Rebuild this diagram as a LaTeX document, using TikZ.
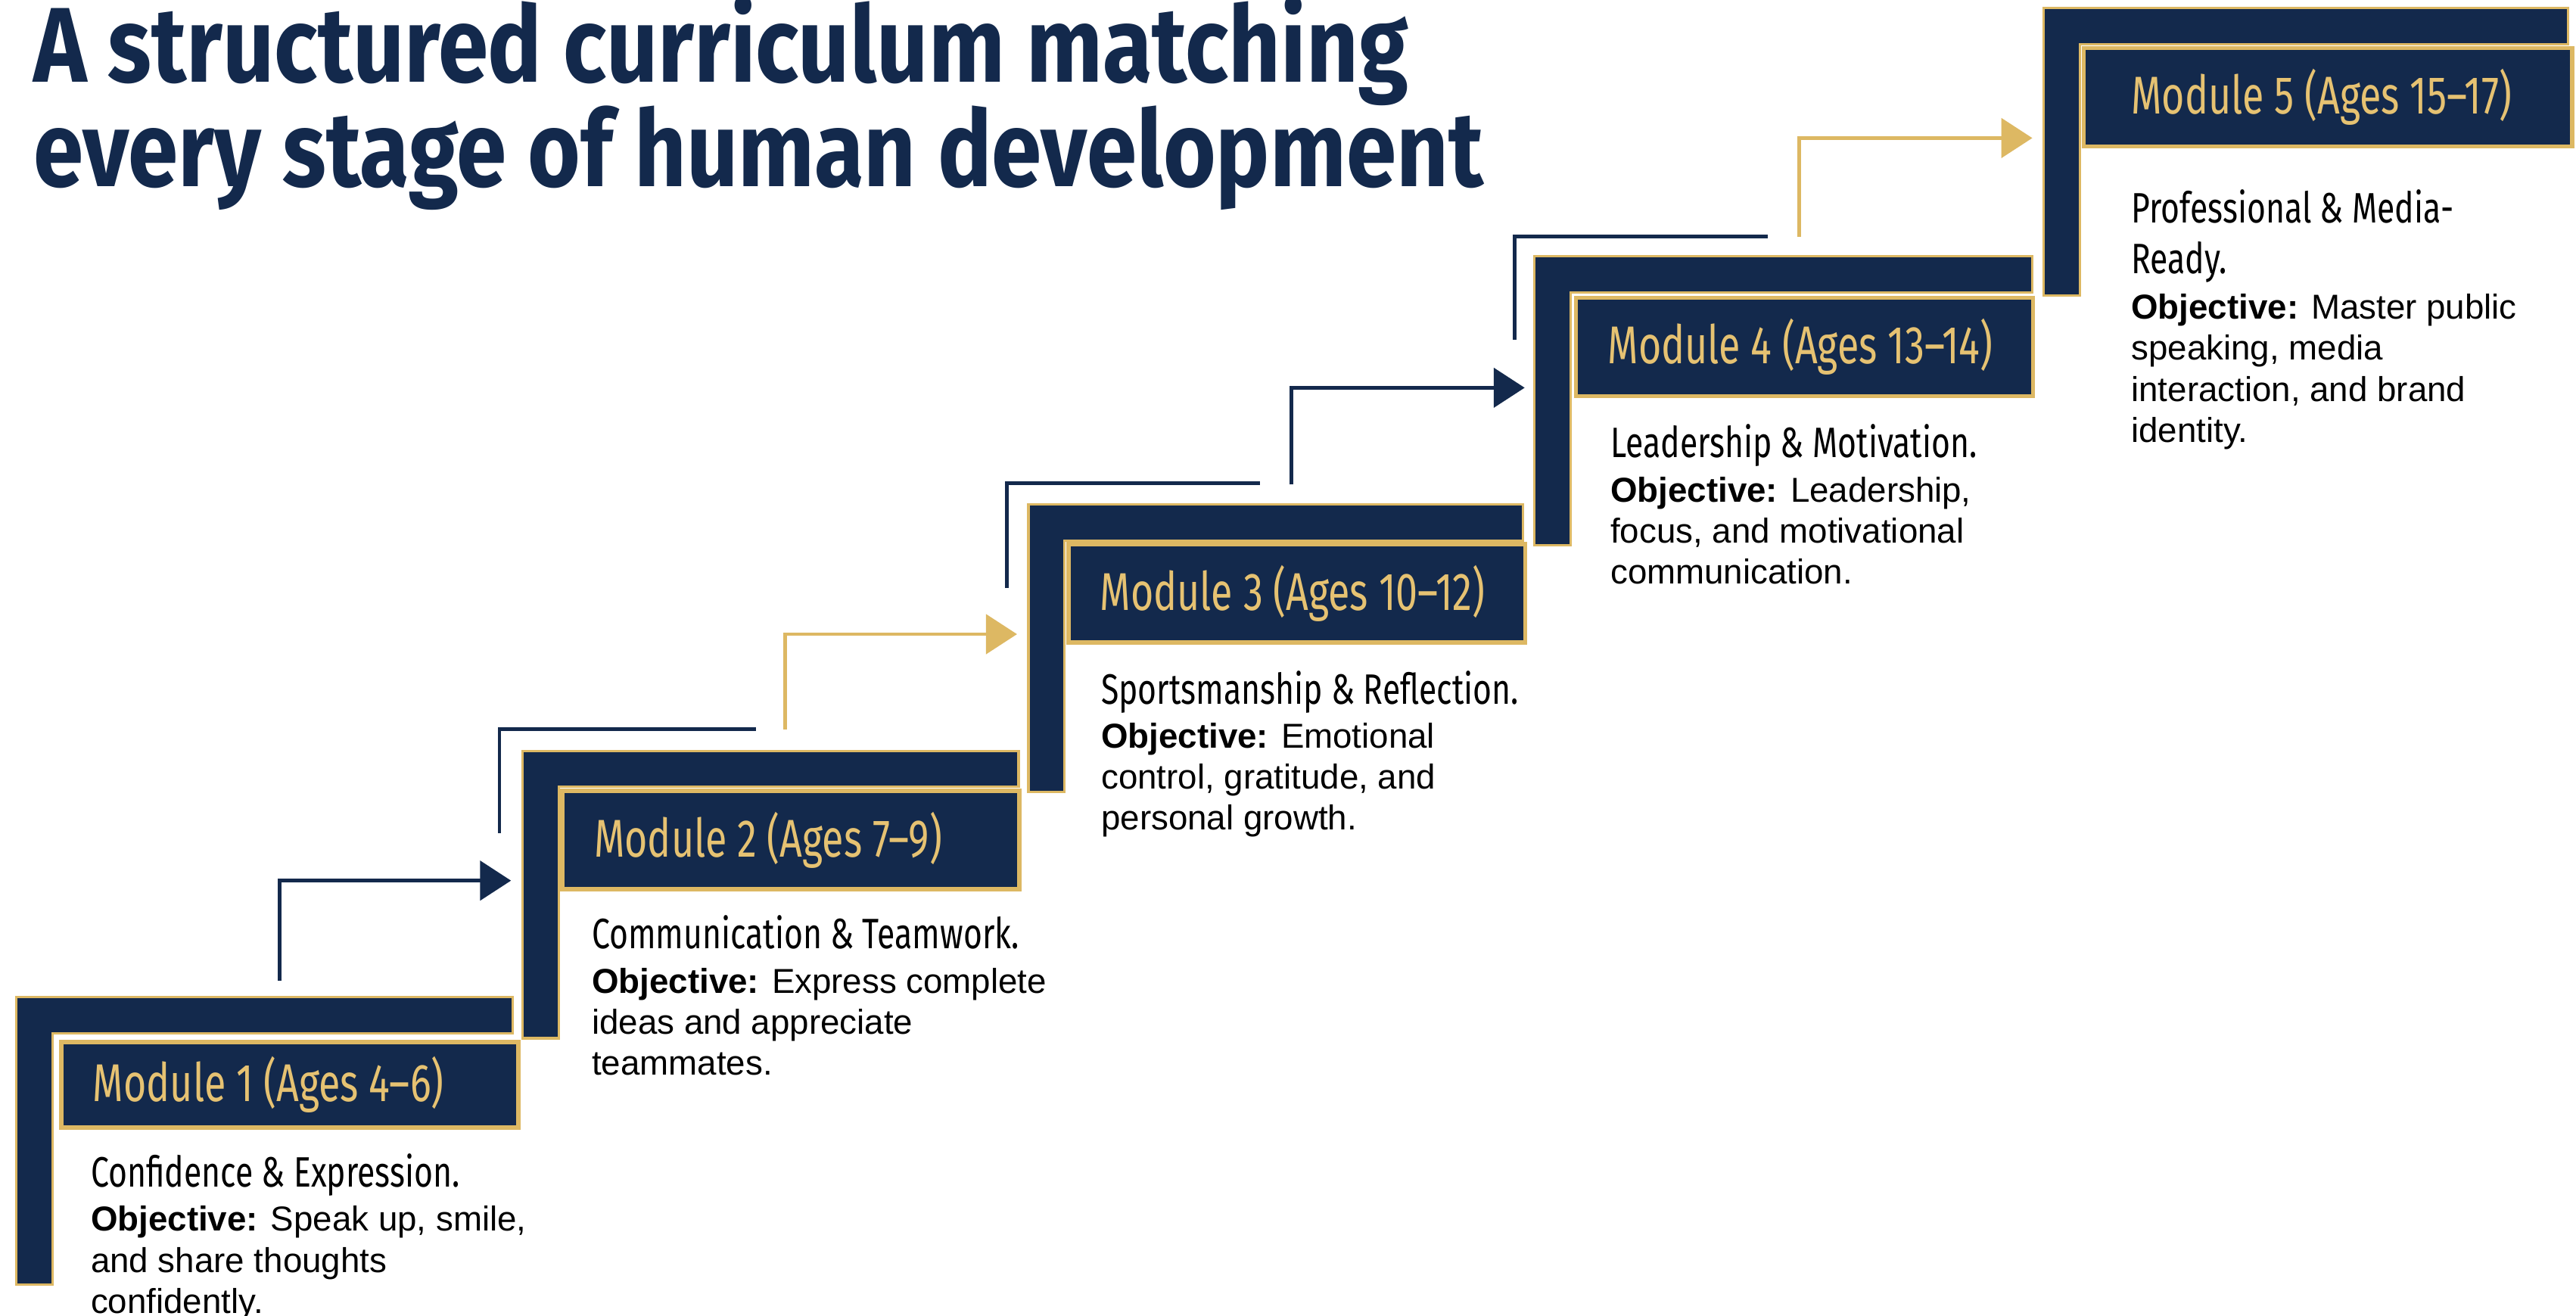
\documentclass[tikz,border=0pt]{standalone}
\usepackage{fontspec}
\setmainfont{Liberation Sans}
\newfontfamily\headfont[FakeStretch=0.74, Ligatures=TeX]{Fira Sans}
\newfontfamily\condfont[FakeStretch=0.76, Ligatures=TeX]{Fira Sans}
\newfontfamily\titlefont[FakeStretch=0.85, Ligatures=TeX]{Fira Sans}
\usetikzlibrary{arrows.meta}
\definecolor{navy}{HTML}{13294C}
\definecolor{gold}{HTML}{DDB863}
\definecolor{goldtext}{HTML}{E6C272}
\newcommand{\stagehead}[1]{{\condfont\fontsize{16}{19}\selectfont #1}}
\newcommand{\modtitle}[1]{\makebox[5.2cm][l]{#1}}
\tikzset{
  stageframe/.style={fill=navy, draw=gold, line width=0.9pt},
  modhead/.style={anchor=north west, fill=navy, draw=gold, line width=1.6pt,
    minimum height=1.30cm, minimum width=6.04cm, inner xsep=0.40cm, inner ysep=0pt,
    text=goldtext, font=\headfont\fontsize{20}{24}\selectfont},
  modbody/.style={anchor=north west, align=left, inner sep=0pt,
    font=\fontsize{13}{15.4}\selectfont},
  navyarrow/.style={draw=navy, line width=1.4pt, -{Triangle[length=0.41cm, width=0.52cm]}},
  goldarrow/.style={navyarrow, draw=gold},
  trail/.style={draw=navy, line width=1.4pt}
}
\begin{document}
\begin{tikzpicture}[x=0.02171cm, y=-0.02171cm]
\useasboundingbox[fill=white] (0,0) rectangle (1568,801);

\node (title) at (20,-3) [anchor=north west, align=left, inner sep=0pt, text=navy,
  font=\titlefont\bfseries\fontsize{40}{39.5}\selectfont]
  {A structured curriculum matching\\every stage of human development};

\draw[stageframe] (10,607) -- (312,607) -- (312,629) -- (32,629) -- (32,782) -- (10,782) -- cycle;
\node (h1) at (36,633) [modhead, minimum height=1.13cm] {\modtitle{Module 1 (Ages 4–6)}};
\node (b1) at (55,702) [modbody] {\stagehead{Confidence \& Expression.}\\[1.2pt]
  \textbf{Objective:} Speak up, smile,\\and share thoughts\\confidently.};

\draw[stageframe] (318,457) -- (620,457) -- (620,479) -- (340,479) -- (340,632) -- (318,632) -- cycle;
\node (h2) at (341,480) [modhead] {\modtitle{Module 2 (Ages 7–9)}};
\node (b2) at (360,557) [modbody] {\stagehead{Communication \& Teamwork.}\\[1.2pt]
  \textbf{Objective:} Express complete\\ideas and appreciate\\teammates.};

\draw[stageframe] (626,307) -- (927,307) -- (927,329) -- (648,329) -- (648,482) -- (626,482) -- cycle;
\node (h3) at (649,330) [modhead] {\modtitle{Module 3 (Ages 10–12)}};
\node (b3) at (670,408) [modbody] {\stagehead{Sportsmanship \& Reflection.}\\[1.2pt]
  \textbf{Objective:} Emotional\\control, gratitude, and\\personal growth.};

\draw[stageframe] (934,156) -- (1237,156) -- (1237,178) -- (956,178) -- (956,332) -- (934,332) -- cycle;
\node (h4) at (958,180) [modhead] {\modtitle{Module 4 (Ages 13–14)}};
\node (b4) at (980,258) [modbody] {\stagehead{Leadership \& Motivation.}\\[1.2pt]
  \textbf{Objective:} Leadership,\\focus, and motivational\\communication.};

\draw[stageframe] (1244,5) -- (1563,5) -- (1563,27) -- (1266,27) -- (1266,180) -- (1244,180) -- cycle;
\node (h5) at (1267,28) [modhead, minimum width=6.43cm, inner xsep=0.63cm] {\modtitle{Module 5 (Ages 15–17)}};
\node (b5) at (1297,115) [modbody] {\stagehead{Professional \& Media-}\\[3.7pt]
  \stagehead{Ready.}\\[1.8pt]
  \textbf{Objective:} Master public\\speaking, media\\interaction, and brand\\identity.};

\coordinate (s1) at (170,597);
\coordinate (s2) at (478,444);
\coordinate (s3) at (786,295);
\coordinate (s4) at (1095,144);

\draw[trail] (304,507) |- (460,444);
\draw[trail] (613,358) |- (767,294);
\draw[trail] (922,207) |- (1076,144);

\draw[navyarrow] (s1) |- ([xshift=-0.65cm, yshift=0.14cm]h2.south west);
\draw[goldarrow] (s2) |- ([xshift=-0.65cm, yshift=0.14cm]h3.south west);
\draw[navyarrow] (s3) |- ([xshift=-0.65cm, yshift=0.14cm]h4.south west);
\draw[goldarrow] (s4) |- ([xshift=-0.65cm, yshift=0.14cm]h5.south west);
\end{tikzpicture}
\end{document}
